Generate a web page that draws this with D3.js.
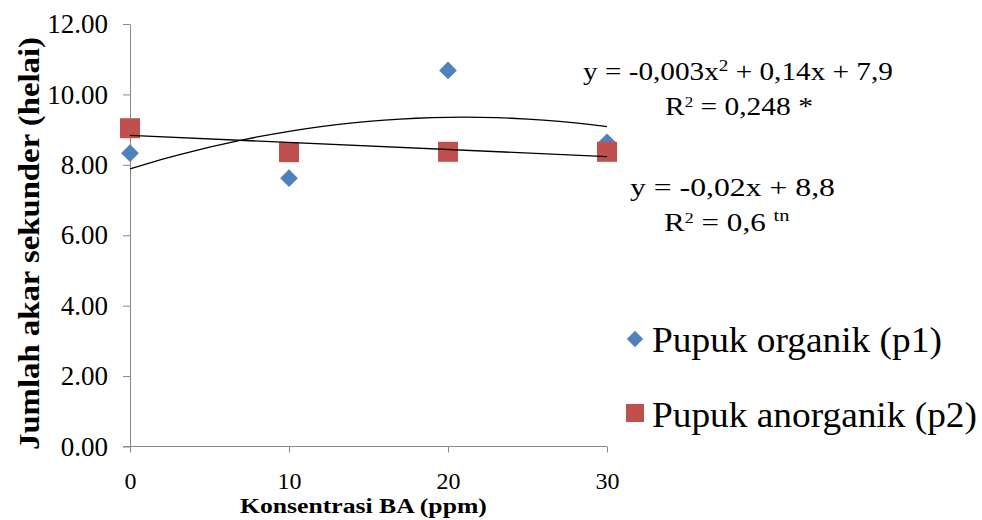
<!DOCTYPE html>
<html>
<head>
<meta charset="utf-8">
<script src="https://cdn.jsdelivr.net/npm/d3@7"></script>
<style>
  body { margin: 0; background: #fff; }
  svg { display: block; font-family: "Liberation Serif", "Times New Roman", serif; }
  .axis path, .axis line { stroke: #898989; }
  .axis text { font-family: "Liberation Serif", serif; fill: #000; }
</style>
</head>
<body>
<div id="chart"></div>
<script>
// data
let doses = [0, 10, 20, 30];
let organik = [8.33, 7.62, 10.68, 8.64];
let anorganik = [9.04, 8.36, 8.37, 8.37];
let yTicks = [0, 2, 4, 6, 8, 10, 12];
let seriesNames = ["Pupuk organik (p1)", "Pupuk anorganik (p2)"];

// least squares polynomial fit (like the excel trendline)
function polyFit(xs, ys, order) {
  let n = order + 1;
  let A = [];
  for (let r = 0; r < n; r++) {
    A.push([]);
    for (let c = 0; c < n; c++)
      A[r].push(d3.sum(xs, x => Math.pow(x, r + c)));
    A[r].push(d3.sum(xs, (x, i) => Math.pow(x, r) * ys[i]));
  }
  for (let i = 0; i < n; i++) {
    for (let k = i + 1; k < n; k++) {
      let f = A[k][i] / A[i][i];
      for (let j = i; j <= n; j++) A[k][j] -= f * A[i][j];
    }
  }
  let coef = new Array(n).fill(0);
  for (let i = n - 1; i >= 0; i--) {
    let s = A[i][n];
    for (let j = i + 1; j < n; j++) s -= A[i][j] * coef[j];
    coef[i] = s / A[i][i];
  }
  return x => coef.reduce((acc, c, p) => acc + c * Math.pow(x, p), 0);
}

// the original text is a bit stretched sideways, so squeeze/stretch to a width
function fitText(t, x, y, w, rot) {
  let bw = t.node().getBBox().width;
  let k = w / bw;
  t.attr("x", 0).attr("y", 0)
   .attr("transform", `translate(${x},${y})` + (rot ? ` rotate(${rot})` : "") + ` scale(${k},1)`);
}

let width = 982, height = 520;

let xScale = d3.scaleLinear().domain([0, 30]).range([130, 607]);
let yScale = d3.scaleLinear().domain([0, 12]).range([446.5, 24]);

let svg = d3.select("#chart").append("svg")
  .attr("width", width)
  .attr("height", height);

// axes
let yAxis = d3.axisLeft(yScale).tickValues(yTicks).tickFormat(d3.format(".2f")).tickSize(7).tickSizeOuter(0);
let gy = svg.append("g")
  .attr("class", "axis")
  .attr("transform", "translate(130,0)")
  .call(yAxis);
gy.selectAll("text").attr("x", -22).style("font-size", "27px");

let xAxis = d3.axisBottom(xScale).tickValues(doses).tickFormat(d3.format("d")).tickSize(6).tickSizeOuter(0);
let gx = svg.append("g")
  .attr("class", "axis")
  .attr("transform", "translate(0,446.5)")
  .call(xAxis);
gx.selectAll("text").attr("y", 25).style("font-size", "24px");
// little extension of the x axis line to the left, like the original
gx.select(".domain").attr("d", `M123,0H${xScale(30)}`);

// axis titles
let xt = svg.append("text")
  .style("font-weight", "bold")
  .style("font-size", "22px")
  .text("Konsentrasi BA (ppm)");
fitText(xt, 240, 513, 247);

let yt = svg.append("text")
  .style("font-weight", "bold")
  .style("font-size", "29px")
  .text("Jumlah akar sekunder (helai)");
fitText(yt, 39, 450, 413, -90);

// markers
let diamond = d3.symbol().type(d3.symbolDiamond2).size(200);

svg.append("g").selectAll("path")
  .data(organik)
  .enter()
  .append("path")
  .attr("d", diamond)
  .attr("transform", (d, i) => `translate(${xScale(doses[i])},${yScale(d)})`)
  .attr("fill", "#4F81BD");

let sq = 20;
svg.append("g").selectAll("rect")
  .data(anorganik)
  .enter()
  .append("rect")
  .attr("x", (d, i) => xScale(doses[i]) - sq / 2)
  .attr("y", d => yScale(d) - sq / 2)
  .attr("width", sq)
  .attr("height", sq)
  .attr("fill", "#C0504D");

// trendlines
let fitQuad = polyFit(doses, organik, 2);
let fitLin = polyFit(doses, anorganik, 1);
let xs = d3.range(0, 30.001, 1);
let line = d3.line().x(d => xScale(d[0])).y(d => yScale(d[1]));

svg.append("path")
  .datum(xs.map(x => [x, fitQuad(x)]))
  .attr("d", line)
  .attr("fill", "none")
  .attr("stroke", "#000")
  .attr("stroke-width", 1.3);

svg.append("path")
  .datum([0, 30].map(x => [x, fitLin(x)]))
  .attr("d", line)
  .attr("fill", "none")
  .attr("stroke", "#000")
  .attr("stroke-width", 1.3);

// trendline equations
let eq = svg.append("g").style("font-size", "26px");

let t1 = eq.append("text");
t1.append("tspan").text("y = -0,003x");
t1.append("tspan").attr("dy", -9).style("font-size", "17px").text("2");
t1.append("tspan").attr("dy", 9).text(" + 0,14x + 7,9");
fitText(t1, 583, 80, 310);

let t2 = eq.append("text");
t2.append("tspan").text("R");
t2.append("tspan").attr("dy", -8).style("font-size", "15px").text("2");
t2.append("tspan").attr("dy", 8).text(" = 0,248 *");
fitText(t2, 665, 115, 148);

let t3 = eq.append("text");
t3.append("tspan").text("y = -0,02x + 8,8");
fitText(t3, 630, 196, 205);

let t4 = eq.append("text");
t4.append("tspan").text("R");
t4.append("tspan").attr("dy", -8).style("font-size", "15px").text("2");
t4.append("tspan").attr("dy", 8).text(" = 0,6 ");
t4.append("tspan").attr("dy", -10).style("font-size", "17px").text("tn");
fitText(t4, 664, 231, 126);

// legend
let legend = svg.append("g");
legend.append("path")
  .attr("d", d3.symbol().type(d3.symbolDiamond2).size(170))
  .attr("transform", "translate(635,339)")
  .attr("fill", "#4F81BD");
legend.append("rect")
  .attr("x", 626).attr("y", 404)
  .attr("width", 18).attr("height", 18)
  .attr("fill", "#C0504D");
let legendWidths = [290, 325];
legend.selectAll("text")
  .data(seriesNames)
  .enter()
  .append("text")
  .style("font-size", "35px")
  .text(d => d)
  .each(function(d, i) {
    fitText(d3.select(this), 652, 352 + i * 75, legendWidths[i]);
  });
</script>
</body>
</html>
